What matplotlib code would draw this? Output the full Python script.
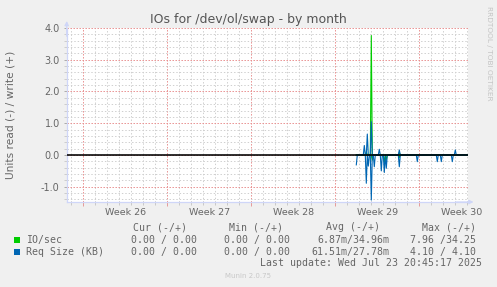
import numpy as np
import matplotlib
matplotlib.use("Agg")
import matplotlib.pyplot as plt
from matplotlib.patches import Rectangle
from matplotlib.transforms import blended_transform_factory

# ---------------- data ----------------
# time axis: 2-hour samples, day 0 = start of Week 26
samples_per_day = 12
first_sample = 273          # first 2-hour slot with data
last_sample = 384           # last slot shown

week_labels = ["Week 26", "Week 27", "Week 28", "Week 29", "Week 30"]
week_starts = [0, 7, 14, 21, 28]

# non-zero samples (slot index -> value); read plotted negative, write positive
io_read_slots = [289, 301, 303, 316]
io_read_vals = [0.16, 0.22, 0.15, 0.08]
io_write_slots = [283, 288, 316]
io_write_vals = [0.10, 3.76, 0.08]

req_read_slots = [273, 283, 285, 288, 291, 298, 301, 303, 316, 334, 354, 358, 369]
req_read_vals = [0.31, 0.89, 0.35, 1.42, 0.37, 0.50, 0.55, 0.42, 0.37, 0.21, 0.21, 0.21, 0.21]
req_write_slots = [281, 284, 288, 296, 316, 372]
req_write_vals = [0.30, 0.66, 1.05, 0.18, 0.16, 0.16]

legend_names = ["IO/sec", "Req Size (KB)"]
legend_cur = ["0.00 / 0.00", "0.00 / 0.00"]
legend_min = ["0.00 / 0.00", "0.00 / 0.00"]
legend_avg = ["6.87m/34.96m", "61.51m/27.78m"]
legend_max = ["7.96 /34.25", "4.10 / 4.10"]
colors = ["#00CC00", "#0066B3"]

title = "IOs for /dev/ol/swap - by month"
ylabel = "Units read (-) / write (+)"
last_update = "Last update: Wed Jul 23 20:45:17 2025"

# ---------------- build series ----------------
slots = np.arange(first_sample, last_sample + 1)
t = slots / samples_per_day

def series(slot_list, vals, sign):
    y = np.zeros(len(slots))
    for s, v in zip(slot_list, vals):
        y[s - first_sample] = sign * v
    return y

io_r = series(io_read_slots, io_read_vals, -1)
io_w = series(io_write_slots, io_write_vals, 1)
rq_r = series(req_read_slots, req_read_vals, -1)
rq_w = series(req_write_slots, req_write_vals, 1)

# ---------------- figure ----------------
W, H = 497, 287
fig = plt.figure(figsize=(W / 100, H / 100), dpi=100, facecolor="#F0F0F0")

def fx(px):
    return px / W

def fy(py):
    return 1 - py / H

ax_l, ax_r, ax_t, ax_b = 66.7, 467.5, 27.5, 202.0
ax = fig.add_axes([fx(ax_l), fy(ax_b), (ax_r - ax_l) / W, (ax_b - ax_t) / H])
ax.set_facecolor("white")

x0 = (ax_l - 83.3) / 12
x1 = (ax_r - 83.3) / 12
ax.set_xlim(x0, x1)
ax.set_ylim(-1.48, 4.015)

font_col = "#666666"
minor_col = "#D0D0D0"
major_col = "#E88E8E"
axis_col = "#CFD6F8"

# grid
ax.set_xticks(week_starts)
ax.set_xticks(np.arange(-1, 33), minor=True)
ax.set_yticks(np.arange(-1, 5))
ax.set_yticks(np.arange(-1.4, 4.01, 0.2), minor=True)
ax.grid(which="minor", color=minor_col, linestyle=(0, (1.4, 2.0)), linewidth=0.72)
ax.grid(which="major", color=major_col, linestyle=(0, (1.4, 1.6)), linewidth=0.72)
ax.set_axisbelow(True)

ax.set_xticklabels([])
ax.tick_params(axis="x", which="major", length=3, color="#E59A9A", width=0.7)
ax.tick_params(axis="x", which="minor", length=2, color="#C8C8C8", width=0.7)
ax.set_yticklabels(["%.1f" % v for v in np.arange(-1, 5)])
ax.tick_params(axis="y", which="major", length=2, color="#AAAAAA", width=0.7,
               labelsize=7, labelcolor=font_col, pad=3)
ax.tick_params(axis="y", which="minor", length=2, color="#CCCCCC", width=0.7)

for s in ["top", "right"]:
    ax.spines[s].set_visible(False)
for s in ["left", "bottom"]:
    ax.spines[s].set_color(axis_col)
    ax.spines[s].set_linewidth(0.9)

# arrows
ax.annotate("", xy=(0, 1.0 + 6.5 / (ax_b - ax_t)), xytext=(0, 0.95),
            xycoords="axes fraction",
            arrowprops=dict(arrowstyle="-|>", color=axis_col, lw=0.9,
                            mutation_scale=6, shrinkA=0, shrinkB=0),
            annotation_clip=False)
ax.annotate("", xy=(1.0 + 6 / (ax_r - ax_l), 0), xytext=(0.97, 0),
            xycoords="axes fraction",
            arrowprops=dict(arrowstyle="-|>", color=axis_col, lw=0.9,
                            mutation_scale=6, shrinkA=0, shrinkB=0),
            annotation_clip=False)

# week labels (centered in each week)
trans = blended_transform_factory(ax.transData, fig.transFigure)
for ws, lab in zip(week_starts, week_labels):
    ax.text(ws + 3.5, fy(212.7), lab, transform=trans, ha="center", va="center",
            fontsize=6.8, color=font_col, clip_on=False)

# data
lw = 0.8
ax.plot(t, io_r, color=colors[0], lw=lw)
ax.plot(t, io_w, color=colors[0], lw=lw)
ax.plot(t, rq_r, color=colors[1], lw=lw)
ax.plot(t, rq_w, color=colors[1], lw=lw)
ax.axhline(0, color="black", lw=1.15, zorder=5)

# texts
fig.text(fx(248), fy(19.5), title, ha="center", va="center", fontsize=9, color="#555555")
fig.text(fx(11), fy(115), ylabel, ha="center", va="center", rotation=90,
         fontsize=7.7, color=font_col)
fig.text(fx(488.5), fy(53), "RRDTOOL / TOBI OETIKER", ha="center", va="center",
         rotation=-90, fontsize=5.3, color="#C4C4C4")
fig.text(fx(248), fy(276), "Munin 2.0.75", ha="center", va="center",
         fontsize=5.0, color="#C8C8C8")

mono = dict(family="DejaVu Sans Mono", fontsize=7.1, color=font_col, va="center")
hy = 227.3
fig.text(fx(187.3), fy(hy), "Cur (-/+)", ha="right", **mono)
fig.text(fx(283.3), fy(hy), "Min (-/+)", ha="right", **mono)
fig.text(fx(380.0), fy(hy), "Avg (-/+)", ha="right", **mono)
fig.text(fx(476.0), fy(hy), "Max (-/+)", ha="right", **mono)

row_y = [240.0, 251.7]
for i in range(2):
    y = row_y[i]
    fig.patches.append(Rectangle((fx(14), fy(y + 3)), 6 / W, 6 / H,
                                 transform=fig.transFigure, facecolor=colors[i],
                                 edgecolor="none"))
    fig.text(fx(26.3), fy(y), legend_names[i], ha="left", **mono)
    fig.text(fx(196.7), fy(y), legend_cur[i], ha="right", **mono)
    fig.text(fx(290.0), fy(y), legend_min[i], ha="right", **mono)
    fig.text(fx(389.3), fy(y), legend_avg[i], ha="right", **mono)
    fig.text(fx(476.0), fy(y), legend_max[i], ha="right", **mono)

fig.text(fx(482.3), fy(263.3), last_update, ha="right", **mono)

fig.savefig("out.png", dpi=100, facecolor=fig.get_facecolor())
